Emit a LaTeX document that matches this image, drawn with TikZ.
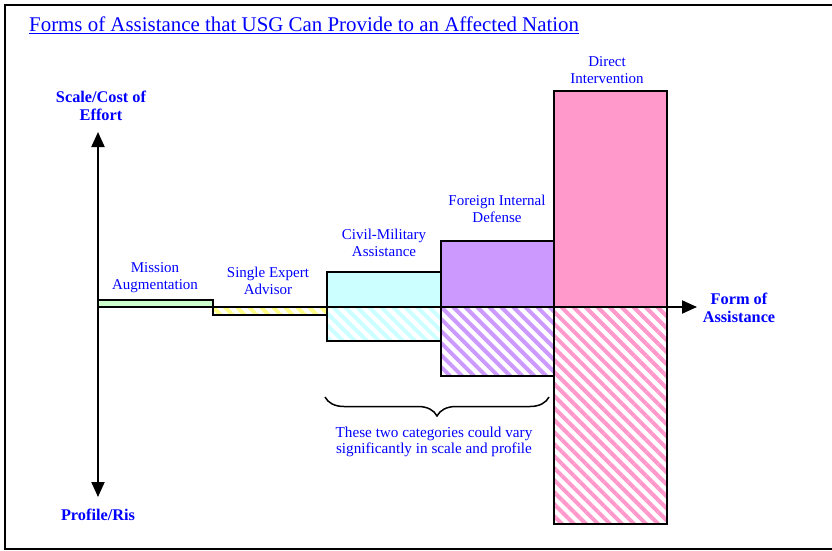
\documentclass[tikz,border=0pt]{standalone}
\usepackage{fontspec}
\setmainfont{Liberation Serif}
\usetikzlibrary{positioning,arrows.meta,patterns.meta,decorations.pathreplacing}
\definecolor{mgreen}{HTML}{CCFFCC}
\definecolor{seyellow}{HTML}{FFFF88}
\definecolor{cmcyan}{HTML}{CCFFFF}
\definecolor{fidpurple}{HTML}{CC99FF}
\definecolor{dipink}{HTML}{FF99CC}
\definecolor{lblue}{HTML}{0000FF}

\begin{document}
\begin{tikzpicture}[x=1pt,y=-1pt,
	lbl/.style={text=lblue,align=center,inner sep=0pt,font=\fontsize{15}{17}\selectfont},
	axlbl/.style={text=lblue,align=center,inner sep=0pt,font=\fontsize{16.3}{17.5}\selectfont\bfseries},
	bar/.style={draw,line width=1.8pt},
	hatch/.style={bar,pattern={Lines[angle=-45,distance=8.5pt,line width=4pt]},pattern color=#1},
	axis/.style={line width=2pt,-{Triangle[width=13pt,length=15pt]}}]
	\useasboundingbox (0,0) rectangle (832,551);
	\draw[line width=2.3pt] (5,5) rectangle (845,549);
	\node[anchor=base west,inner sep=0pt,text=lblue,font=\fontsize{20.9}{24}\selectfont] (title) at (29,32) {\underline{Forms of Assistance that USG Can Provide to an Affected Nation}};
	% bars above and below the axis
	\draw[bar,fill=mgreen] (98,300) rectangle (213,307);
	\draw[hatch=seyellow] (213,307) rectangle (327,315);
	\draw[bar,fill=cmcyan] (327,272) rectangle (441,307);
	\draw[hatch=cmcyan] (327,307) rectangle (441,341);
	\draw[bar,fill=fidpurple] (441,241) rectangle (554,307);
	\draw[hatch=fidpurple] (441,307) rectangle (554,376);
	\draw[bar,fill=dipink] (554,91) rectangle (667,307);
	\draw[hatch=dipink] (554,307) rectangle (667,524);
	% axes
	\coordinate (o) at (98,307);
	\coordinate (ytop) at (98,132);
	\coordinate (ybot) at (98,497);
	\coordinate (xend) at (697,307);
	\draw[axis] (o) -- (ytop);
	\draw[axis] (o) -- (ybot);
	\draw[axis] (o) -- (xend);
	\node[axlbl] (scale) at (101,106) {Scale/Cost of\\Effort};
	\node[axlbl] (risk) at (98,515) {Profile/Ris};
	\node[axlbl] (form) at (739,308) {Form of\\Assistance};
	% bar labels
	\node[lbl] (mission) at (155,278) {Mission\\Augmentation};
	\node[lbl] (single) at (268,281) {Single Expert\\Advisor};
	\node[lbl] (civmil) at (384,243) {Civil-Military\\Assistance};
	\node[lbl] (fid) at (497,209) {Foreign Internal\\Defense};
	\node[lbl] (direct) at (607,70) {Direct\\Intervention};
	% brace under the two middle bars
	\coordinate (bl) at (325,397);
	\coordinate (br) at (549,397);
	\draw[line width=1.5pt,decorate,decoration={brace,amplitude=19pt,mirror}] (bl) -- (br);
	\node[lbl,font=\fontsize{15.2}{16}\selectfont] (vary) at (434,442) {These two categories could vary\\significantly in scale and profile};
\end{tikzpicture}
\end{document}
